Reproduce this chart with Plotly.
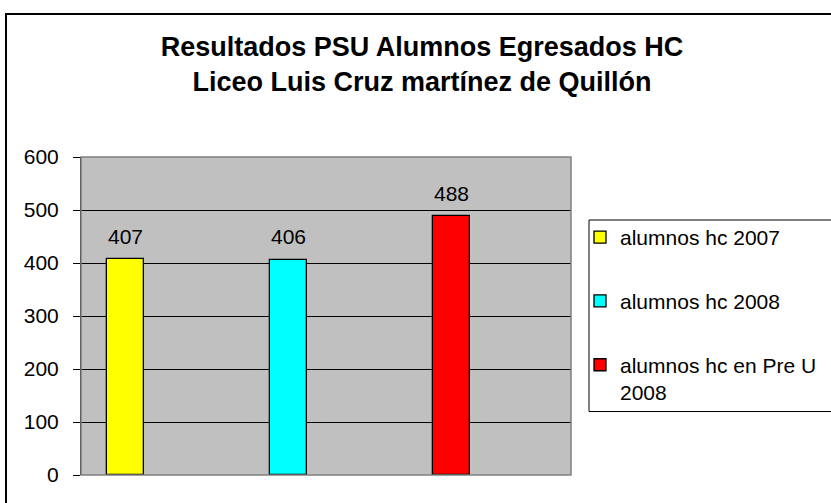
import plotly.graph_objects as go

series_names = ["alumnos hc 2007", "alumnos hc 2008", "alumnos hc en Pre U<br>2008"]
series_values = [407, 406, 488]
series_colors = ["#FFFF00", "#00FFFF", "#FF0000"]
y_ticks = [0, 100, 200, 300, 400, 500, 600]
title_lines = ["Resultados PSU Alumnos Egresados HC", "Liceo Luis Cruz martínez de Quillón"]

FONT = "Arial, Liberation Sans, sans-serif"
W, H = 831, 503
# target plot area on screen
PL, PR, PT, PB = 81, 571, 157, 475
ML, MT = PL, PT
MR, MB = W - PR, H - PB
pw = PR - PL
ph = PB - PT


def px_x(p):
    return (p - PL) / pw


def px_y(p):
    return (PB - p) / ph


fig = go.Figure()
for i, (name, val, col) in enumerate(zip(series_names, series_values, series_colors)):
    fig.add_trace(go.Bar(
        x=[i], y=[val], name=name, width=0.227,
        marker=dict(color=col, line=dict(color="black", width=1.3)),
        legendgroup=f"g{i}",
    ))
    fig.add_annotation(x=i, y=val, text=str(val), showarrow=False,
                       yanchor="middle", yshift=23,
                       font=dict(family=FONT, size=21, color="black"))

shapes = [
    dict(type="rect", xref="paper", yref="paper", x0=0, x1=1, y0=0, y1=1,
         line=dict(color="#808080", width=1.5), layer="above"),
    dict(type="rect", xref="paper", yref="paper", x0=px_x(589), x1=px_x(850),
         y0=px_y(411.5), y1=px_y(220), line=dict(color="black", width=1)),
    dict(type="rect", xref="paper", yref="paper", x0=px_x(6), x1=px_x(860),
         y0=px_y(530), y1=px_y(14), line=dict(color="black", width=2)),
]

fig.update_layout(
    width=W, height=H,
    margin=dict(l=ML, r=MR, t=MT, b=MB, autoexpand=False),
    paper_bgcolor="white", plot_bgcolor="#C0C0C0",
    font=dict(family=FONT, color="black"),
    title=dict(text="<b>" + "<br>".join(title_lines) + "</b>",
               x=422 / W, xanchor="center", xref="container",
               y=1 - 56 / H, yanchor="top", yref="container",
               font=dict(family=FONT, size=27, color="black")),
    showlegend=True,
    legend=dict(x=px_x(580), y=px_y(217), xanchor="left", yanchor="top",
                bgcolor="rgba(0,0,0,0)", borderwidth=0,
                traceorder="grouped", tracegroupgap=33.5, valign="top",
                font=dict(family=FONT, size=21, color="black")),
    shapes=shapes,
    bargap=0,
)
fig.update_xaxes(range=[-0.2747, 2.736], showticklabels=False, showgrid=False,
                 zeroline=False, showline=False, ticks="", fixedrange=True)
fig.update_yaxes(range=[0, 600], tickvals=y_ticks, ticktext=[str(t) for t in y_ticks],
                 showgrid=True, gridcolor="black", gridwidth=1,
                 zeroline=False, showline=True, linecolor="black", linewidth=1,
                 ticks="outside", ticklen=7, tickcolor="black",
                 tickfont=dict(family=FONT, size=21, color="black"),
                 ticklabelstandoff=10, fixedrange=True)

fig.write_html("out.html", config={"displayModeBar": False},
               post_script="document.body.style.margin='0';document.body.style.overflow='hidden';")
